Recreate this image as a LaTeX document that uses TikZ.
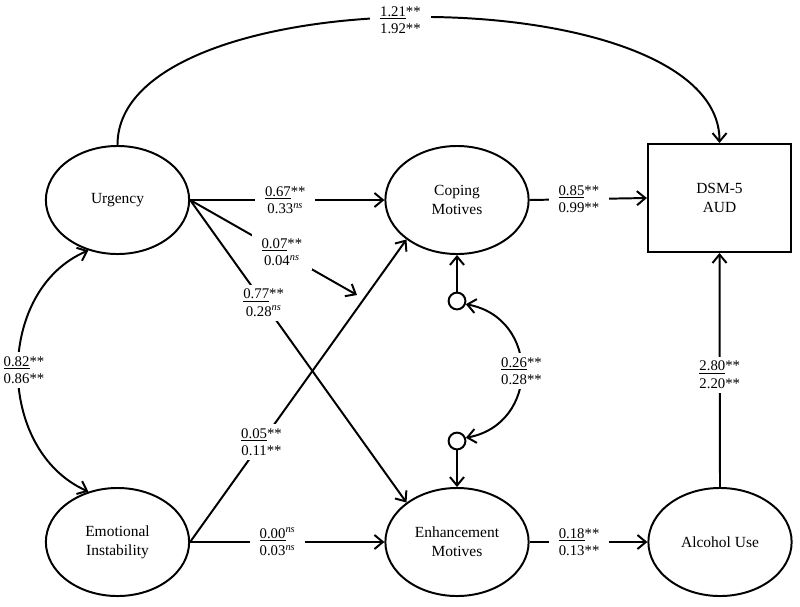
\documentclass[tikz,border=0pt]{standalone}
\usepackage{fontspec}
\setmainfont{Liberation Serif}
\usetikzlibrary{shapes.geometric,arrows.meta}
\newcommand{\nsup}{\textsuperscript{\textit{ns}}}
\begin{document}
\begin{tikzpicture}[x=0.025cm,y=-0.025cm,
    latent/.style={draw,ellipse,line width=1.4pt,minimum width=3.58cm,minimum height=2.7cm,inner sep=0pt,align=center,font=\fontsize{11}{13.5}\selectfont},
    observed/.style={draw,rectangle,line width=1.4pt,minimum width=3.58cm,minimum height=2.7cm,inner sep=0pt,align=center,font=\fontsize{11}{13.5}\selectfont},
    resid/.style={draw,circle,line width=1.4pt,minimum size=0.42cm,inner sep=0pt},
    coef/.style={fill=white,align=center,inner xsep=7pt,inner ysep=3pt,font=\fontsize{10.5}{12.5}\selectfont},
    path/.style={line width=1.4pt,-{Straight Barb[length=6pt,width=10pt]}},
    twoway/.style={line width=1.4pt,{Straight Barb[length=6pt,width=10pt]}-{Straight Barb[length=6pt,width=10pt]}}]
  \useasboundingbox (0,0) rectangle (800,606);

  \node[latent] (urg) at (117.5,200) {Urgency};
  \node[latent] (emo) at (117.5,542) {Emotional\\Instability};
  \node[latent] (cop) at (457,200) {Coping\\Motives};
  \node[latent] (enh) at (457,542) {Enhancement\\Motives};
  \node[latent] (alc) at (720,542) {Alcohol Use};
  \node[observed] (dsm) at (719.5,198) {DSM-5\\AUD};
  \node[resid] (rcop) at (457,301) {};
  \node[resid] (renh) at (457,441) {};
  \coordinate (modtip) at (357,295);

  \draw[path] (urg.north) .. controls (117,-25) and (720,-25) .. node[coef,pos=0.48,yshift=-2pt]{\underline{1.21}**\\1.92**} (dsm.north);
  \draw[path] (urg.east) -- node[coef,pos=0.49]{\underline{0.67}**\\0.33\nsup} (cop.west);
  \draw[path] (urg.east) -- node[coef,pos=0.55]{\underline{0.07}**\\0.04\nsup} (modtip);
  \draw[path] (urg.east) -- node[coef,pos=0.34]{\underline{0.77}**\\0.28\nsup} (enh.142);
  \draw[path] (emo.east) -- node[coef,pos=0.33]{\underline{0.05}**\\0.11**} (cop.-142);
  \draw[path] (emo.east) -- node[coef,pos=0.45]{\underline{0.00}\nsup\\0.03\nsup} (enh.west);
  \draw[path] (cop.east) -- node[coef,pos=0.42]{\underline{0.85}**\\0.99**} (dsm.west);
  \draw[path] (enh.east) -- node[coef,pos=0.42]{\underline{0.18}**\\0.13**} (alc.west);
  \draw[path] (alc.north) -- node[coef,pos=0.48]{\underline{2.80}**\\2.20**} (dsm.south);
  \draw[path] (rcop) -- (cop.south);
  \draw[path] (renh) -- (enh.north);
  \draw[twoway] (urg.-120) .. controls (-5,290) and (-5,450) .. node[coef,xshift=4pt]{\underline{0.82}**\\0.86**} (emo.120);
  \draw[twoway] (rcop.-20) .. controls (540,318) and (540,424) .. node[coef]{\underline{0.26}**\\0.28**} (renh.20);
\end{tikzpicture}
\end{document}
